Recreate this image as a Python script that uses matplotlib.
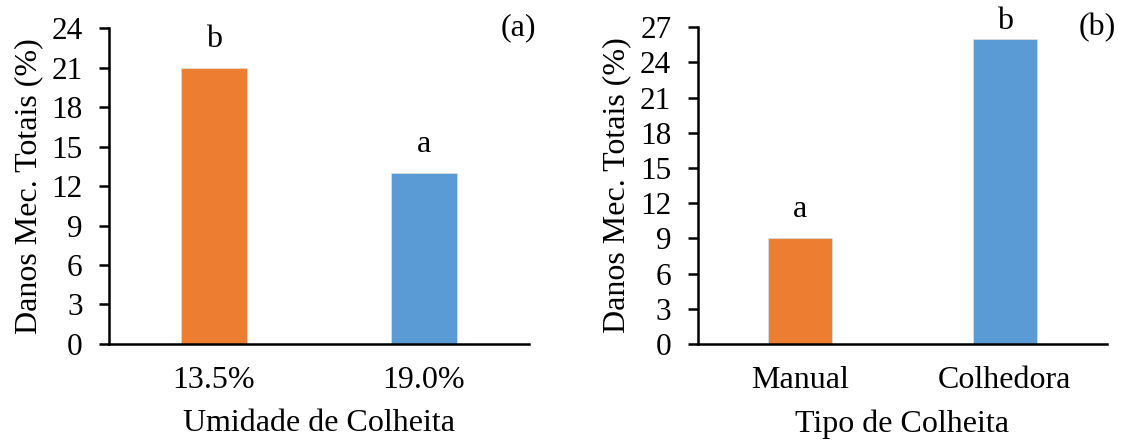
import matplotlib
matplotlib.use("Agg")
import matplotlib.pyplot as plt

plt.rcParams['font.family'] = ['Liberation Serif', 'DejaVu Serif']

cats_a = ["13.5%", "19.0%"]
vals_a = [21, 13]
letters_a = ["b", "a"]

cats_b = ["Manual", "Colhedora"]
vals_b = [9, 26]
letters_b = ["a", "b"]

colors = ["#ED7D31", "#5B9BD5"]

fig = plt.figure(figsize=(11.24, 4.45), dpi=100)
ax1 = fig.add_axes([0.097, 0.227, 0.3736, 0.710])
ax2 = fig.add_axes([0.6207, 0.227, 0.3643, 0.712])

FS = 23

def draw(ax, cats, vals, letters, ymax, step, xlabel, tag, width, offs):
    x = list(range(len(cats)))
    ax.bar(x, vals, width=width, color=colors, edgecolor="#dddddd", linewidth=0.6, zorder=2)
    for xi, v, l, o in zip(x, vals, letters, offs):
        ax.annotate(l, (xi, v), xytext=(0, o), textcoords="offset points",
                    ha="center", va="bottom", fontsize=FS)
    ax.set_xlim(-0.5, 1.5)
    ax.set_ylim(0, ymax)
    ax.set_yticks(range(0, ymax + 1, step))
    ax.set_xticks(x)
    ax.set_xticklabels(cats)
    ax.tick_params(axis="y", direction="out", length=7, width=1.8, labelsize=22.5, pad=12)
    ax.tick_params(axis="x", length=0, labelsize=FS, pad=16)
    for s in ["top", "right"]:
        ax.spines[s].set_visible(False)
    ax.spines["left"].set_linewidth(1.8)
    ax.spines["bottom"].set_linewidth(1.8)
    ax.set_ylabel("Danos Mec. Totais (%)", fontsize=FS, labelpad=6)
    ax.set_xlabel(xlabel, fontsize=FS, labelpad=10)
    ax.text(0.975, 1.0, tag, transform=ax.transAxes, ha="center", va="center", fontsize=FS)

draw(ax1, cats_a, vals_a, letters_a, 24, 3, "Umidade de Colheita", "(a)", 0.31, [10, 10])
draw(ax2, cats_b, vals_b, letters_b, 27, 3, "Tipo de Colheita", "(b)", 0.31, [10, 2])

fig.savefig("out.png", dpi=100)
